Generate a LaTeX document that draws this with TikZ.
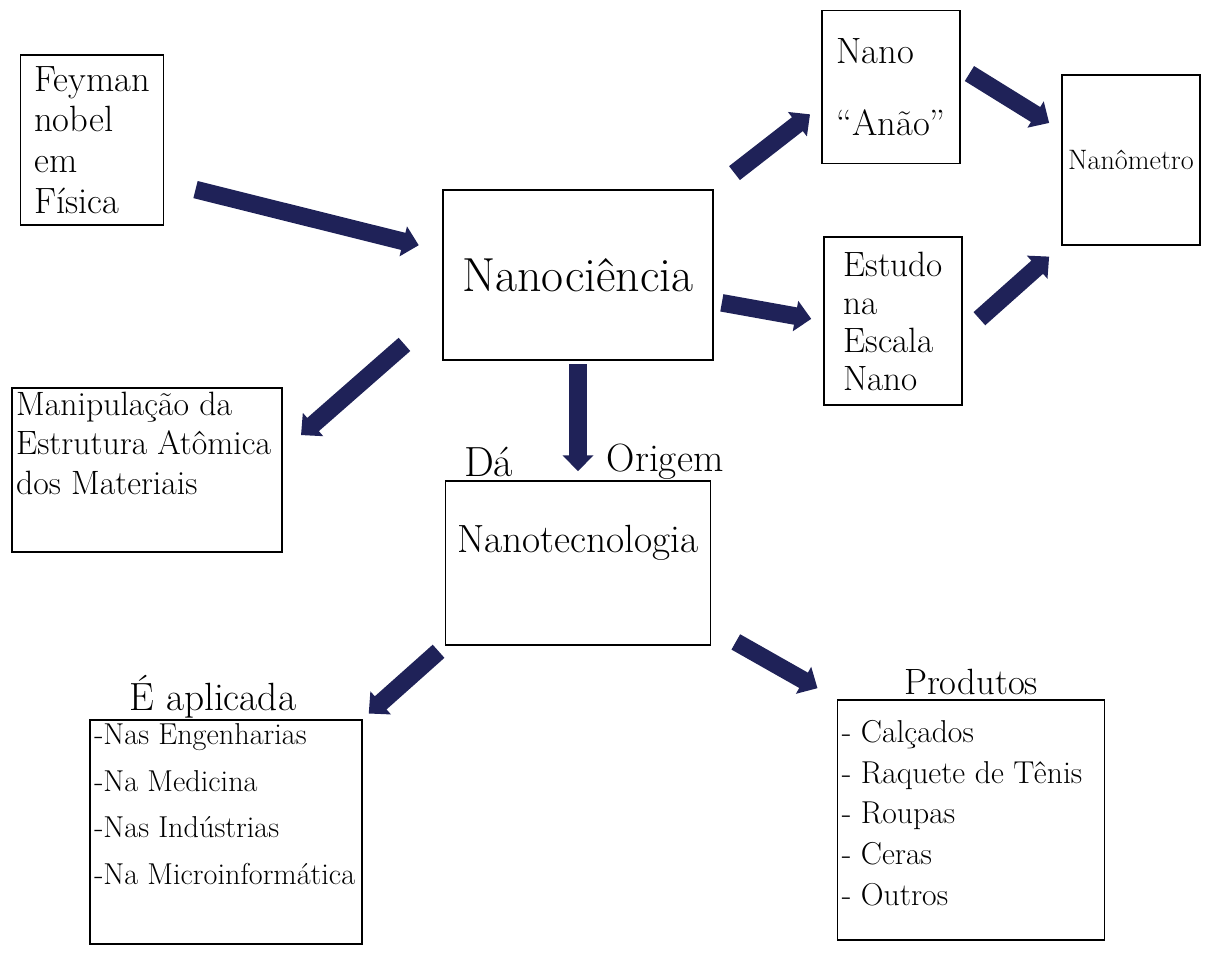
\documentclass[tikz,border=0pt]{standalone}
\usepackage{fontspec}
\usetikzlibrary{positioning,arrows.meta}
\definecolor{navyink}{HTML}{1F2258}
\tikzstyle{concept} = [rectangle, draw=black, line width=1.3pt, inner sep=3pt]
\tikzstyle{arrow} = [navyink, line width=0.44cm, -{Triangle[length=0.4cm,width=0.75cm]}]
\tikzstyle{caption} = [inner sep=0pt]

\begin{document}
\begin{tikzpicture}[x=0.025cm, y=-0.025cm]
\useasboundingbox (0,0) rectangle (1216,956);

\node (feyman) [concept, minimum width=3.575cm, minimum height=4.25cm, align=left, font=\fontsize{26}{29}\selectfont] at (92,140) {Feyman\\nobel\\em\\Física};
\node (nanoc) [concept, minimum width=6.75cm, minimum height=4.25cm, font=\fontsize{34}{38}\selectfont] at (578,275) {Nanociência};
\node (nano) [concept, minimum width=3.45cm, minimum height=3.825cm, align=left, font=\fontsize{26}{30}\selectfont] at (891,87) {Nano\\[0.75cm]“Anão”};
\node (nanom) [concept, minimum width=3.45cm, minimum height=4.25cm, font=\fontsize{20}{24}\selectfont] at (1131,160) {Nanômetro};
\node (estudo) [concept, minimum width=3.45cm, minimum height=4.2cm, align=left, font=\fontsize{25}{27}\selectfont] at (893,321) {Estudo\\na\\Escala\\Nano};
\node (manip) [concept, font=\fontsize{24}{28}\selectfont] at (147,470) {\parbox[c][3.9cm][t]{6.54cm}{Manipulação da\\Estrutura Atômica\\dos Materiais}};
\node (nanot) [concept, minimum width=6.625cm, minimum height=4.1cm, text depth=1.2cm, font=\fontsize{28}{32}\selectfont] at (578,563) {Nanotecnologia};
\node (aplic) [concept, font=\fontsize{21.5}{33}\selectfont] at (226,832) {\parbox[c][5.4cm][t]{6.58cm}{-Nas Engenharias\\-Na Medicina\\-Nas Indústrias\\-Na Microinformática}};
\node (prod) [concept, font=\fontsize{22.5}{29}\selectfont] at (971,820) {\parbox[c][5.79cm][t]{6.46cm}{\vspace{0.4cm}- Calçados\\- Raquete de Tênis\\- Roupas\\- Ceras\\- Outros}};

% titulos das listas
\node (aplictitle) [caption, above=0cm of aplic.north, xshift=-0.33cm, font=\fontsize{28}{32}\selectfont] {É aplicada};
\node (prodtitle) [caption, above=0.1cm of prod.north, font=\fontsize{26}{30}\selectfont] {Produtos};

% setas
\draw [arrow, shorten <=0.8cm, shorten >=0.6cm] (feyman.-30) -- (nanoc.170);
\draw [arrow, shorten <=0.65cm, shorten >=0.35cm] (nanoc.north east) -- (nano.195);
\draw [arrow, shorten <=0.25cm, shorten >=0.35cm] (nano.15) -- (nanom.157);
\draw [arrow, shorten <=0.2cm, shorten >=0.3cm] (nanoc.-11) -- (estudo.west);
\draw [arrow, shorten <=0.55cm, shorten >=0.4cm] (estudo.-10) -- (nanom.south west);
\draw [arrow, shorten <=1.25cm, shorten >=0.6cm] (nanoc.195) -- (manip.8);
\draw [arrow, shorten <=0.08cm, shorten >=0.22cm] (nanoc.south) -- (nanot.north)
  node [caption, black, pos=0.85, left=1.4cm, font=\fontsize{30}{34}\selectfont] (da) {Dá}
  node [caption, black, pos=0.85, right=0.5cm, font=\fontsize{28}{32}\selectfont] (origem) {Origem};
\draw [arrow, shorten <=0.2cm, shorten >=0.2cm] (nanot.south west) -- (aplic.north east);
\draw [arrow, shorten <=0.7cm, shorten >=0.55cm] (nanot.-26) -- (prod.north west);

\end{tikzpicture}
\end{document}
